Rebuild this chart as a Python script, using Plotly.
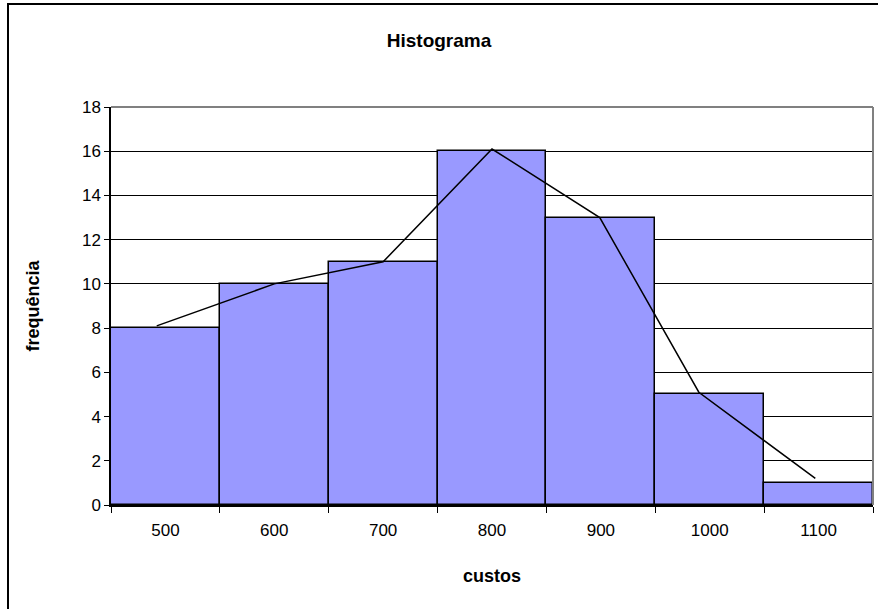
import plotly.graph_objects as go

categories = ["500", "600", "700", "800", "900", "1000", "1100"]
frequencies = [8, 10, 11, 16, 13, 5, 1]
polygon_x = [492, 600, 700, 800, 899, 990, 1097]
polygon_y = [8.1, 10, 11, 16.1, 13, 5.1, 1.2]
y_ticks = [0, 2, 4, 6, 8, 10, 12, 14, 16, 18]

W, H = 878, 609
L, R, T, B = 111, 5, 107, 104
pw, ph = W - L - R, H - T - B

def px(x):
    return (x - L) / pw

def py(y):
    return (H - B - y) / ph

font = "Liberation Sans, Arial, sans-serif"

fig = go.Figure()
fig.add_trace(go.Bar(
    x=categories, y=frequencies,
    marker=dict(color="#9999FF", line=dict(color="black", width=1.5)),
    showlegend=False, hoverinfo="skip",
))
fig.add_trace(go.Scatter(
    x=polygon_x, y=polygon_y, xaxis="x2", yaxis="y",
    mode="lines", line=dict(color="black", width=1.5),
    showlegend=False, hoverinfo="skip",
))

fig.update_layout(
    width=W, height=H,
    margin=dict(l=L, r=R, t=T, b=B, autoexpand=False),
    paper_bgcolor="white", plot_bgcolor="white",
    bargap=0,
    font=dict(family=font, size=17, color="black"),
    title=dict(text="<b>Histograma</b>", x=0.5, xanchor="center",
               y=1 - 40 / H, yanchor="middle", font=dict(size=19)),
    xaxis=dict(
        type="category", tickson="boundaries", ticks="outside", ticklen=6,
        tickcolor="black", showline=True, linecolor="black", linewidth=1.5,
        showgrid=False, tickfont=dict(size=17), ticklabelstandoff=9,
        title=dict(text="<b>custos</b>", font=dict(size=18), standoff=30),
    ),
    xaxis2=dict(overlaying="x", range=[450, 1150], visible=False),
    yaxis=dict(
        range=[0, 18], tickvals=y_ticks, ticks="outside", ticklen=5,
        tickcolor="black", showline=True, linecolor="black", linewidth=1.5,
        showgrid=True, gridcolor="black", gridwidth=1, zeroline=False,
        tickfont=dict(size=17),
        title=dict(text="<b>frequência</b>", font=dict(size=18), standoff=38),
    ),
    shapes=[
        dict(type="line", xref="paper", yref="paper", x0=0, x1=1, y0=1, y1=1,
             line=dict(color="#808080", width=2), layer="above"),
        dict(type="line", xref="paper", yref="paper", x0=1, x1=1, y0=0, y1=1,
             line=dict(color="#808080", width=2), layer="above"),
        dict(type="rect", xref="paper", yref="paper",
             x0=px(8), x1=px(W + 20), y0=py(H + 20), y1=py(4),
             line=dict(color="black", width=2), layer="below"),
    ],
)

fig.write_html("out.html", config={"displayModeBar": False},
               post_script="document.body.style.margin='0';")
